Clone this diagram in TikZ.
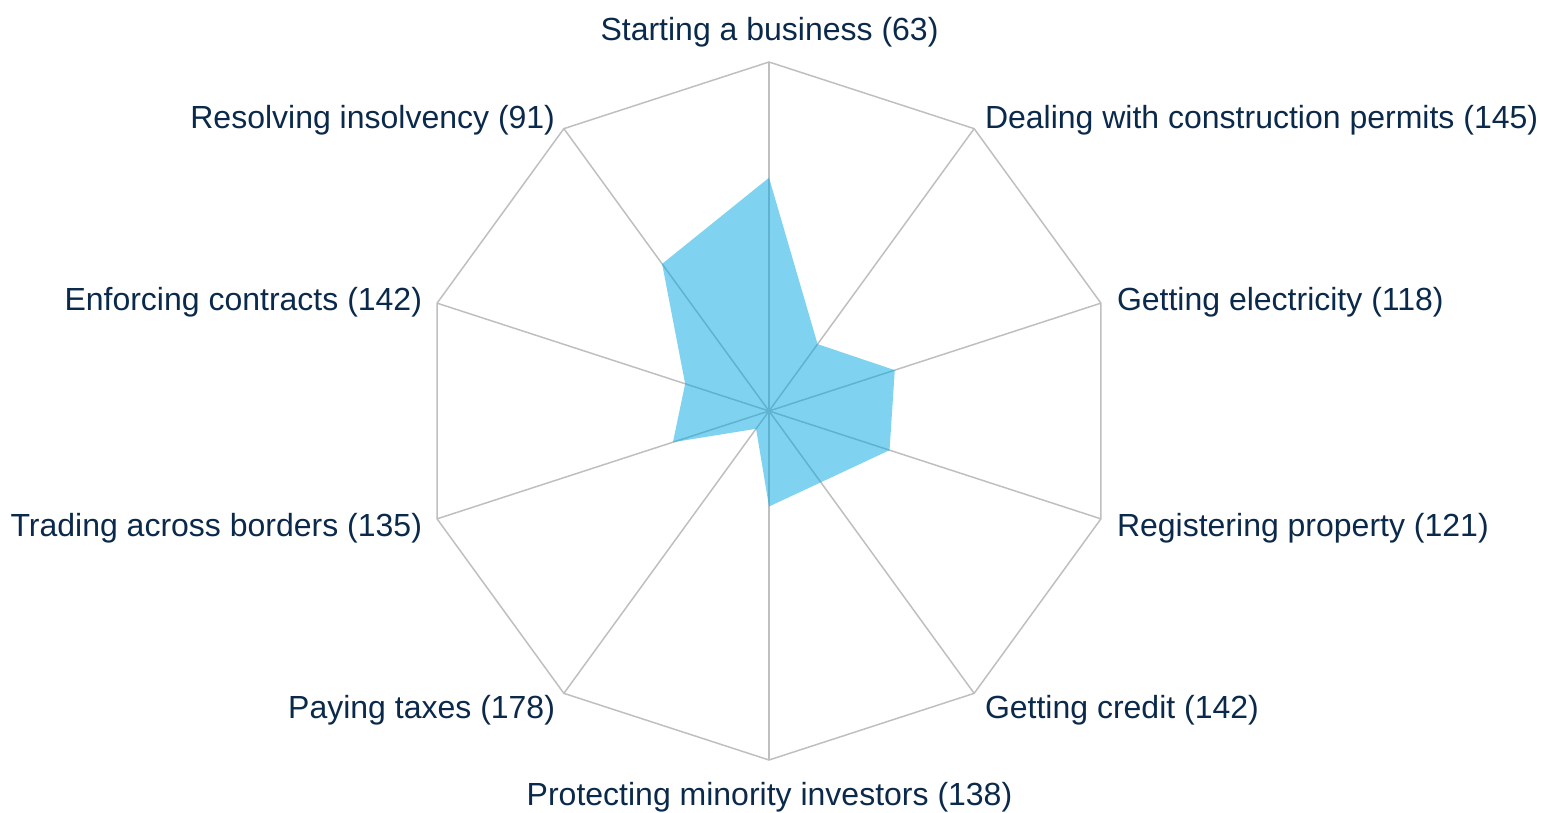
\documentclass[tikz,border=0pt]{standalone}
\usepackage{fontspec}
\setmainfont{Liberation Sans}
\usetikzlibrary{calc}
\definecolor{gridgray}{HTML}{BFBFBF}
\definecolor{labelnavy}{HTML}{0B2A4B}
\definecolor{areablue}{HTML}{00A8E1}
\tikzset{
  gridline/.style={draw=gridgray, line width=1.5pt},
  area/.style={fill=areablue, fill opacity=0.5},
  lbl/.style={text=labelnavy, font=\fontsize{32}{38}\selectfont, inner sep=0pt, outer sep=0pt}
}
\begin{document}
\begin{tikzpicture}[x=1pt,y=1pt]
\useasboundingbox (0,0) rectangle (1541,812);
\coordinate (O) at (769,401);
% axis end points
\foreach \i/\a in {1/90,2/54,3/18,4/-18,5/-54,6/-90,7/-126,8/-162,9/162,10/126}{
  \coordinate (v\i) at ($(O)+(\a:349)$);
}
% grid
\draw[gridline] (v1)--(v2)--(v3)--(v4)--(v5)--(v6)--(v7)--(v8)--(v9)--(v10)--cycle;
\foreach \i in {1,...,10}{ \draw[gridline] (O)--(v\i); }
% data points, value = (190 - rank)/190 of the radius
\foreach \i/\a/\rk in {1/90/63,2/54/145,3/18/118,4/-18/121,5/-54/142,6/-90/138,7/-126/178,8/-162/135,9/162/142,10/126/91}{
  \coordinate (d\i) at ($(O)+(\a:{(190-\rk)/190*349})$);
}
\fill[area] (d1)--(d2)--(d3)--(d4)--(d5)--(d6)--(d7)--(d8)--(d9)--(d10)--cycle;
% labels
\node[lbl, anchor=base] (l1) at (769.5,771.5) {Starting a business (63)};
\node[lbl, anchor=base west] (l2) at (985,683.5) {Dealing with construction permits (145)};
\node[lbl, anchor=base west] (l3) at (1117,501.5) {Getting electricity (118)};
\node[lbl, anchor=base west] (l4) at (1117,275.5) {Registering property (121)};
\node[lbl, anchor=base west] (l5) at (985,93.5) {Getting credit (142)};
\node[lbl, anchor=base] (l6) at (769.5,6.5) {Protecting minority investors (138)};
\node[lbl, anchor=base east] (l7) at (555,93.5) {Paying taxes (178)};
\node[lbl, anchor=base east] (l8) at (422,275.5) {Trading across borders (135)};
\node[lbl, anchor=base east] (l9) at (422,501.5) {Enforcing contracts (142)};
\node[lbl, anchor=base east] (l10) at (555,683.5) {Resolving insolvency (91)};
\end{tikzpicture}
\end{document}
